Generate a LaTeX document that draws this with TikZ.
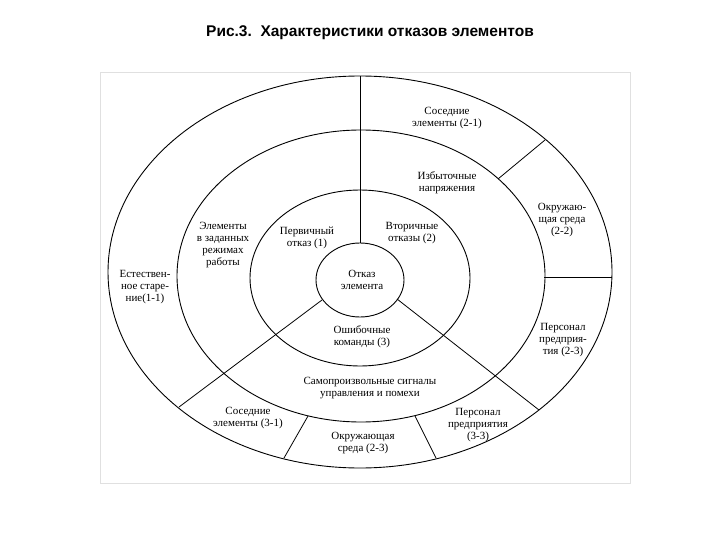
\documentclass[tikz,border=0pt]{standalone}
\usepackage{fontspec}
\setmainfont{Liberation Serif}
\newfontfamily\titlefont{Liberation Sans}
\begin{document}
\begin{tikzpicture}[x=1pt,y=-1pt,
  lbl/.style={align=center,font=\fontsize{11}{12}\selectfont,inner sep=1pt},
  ring/.style={draw,line width=0.9pt},
  sep/.style={draw,line width=0.8pt}]
\useasboundingbox (0,0) rectangle (720,540);
\fill[white] (0,0) rectangle (720,540);
\draw[black!12,line width=0.6pt] (100,72) rectangle (630,483);
\node[font=\titlefont\bfseries\fontsize{15.5}{17}\selectfont] (title) at (370,33) {Рис.3.\ \ Характеристики отказов элементов};
\draw[ring] (360,272) ellipse [x radius=252,y radius=196];
\draw[ring] (361,276) ellipse [x radius=184,y radius=146];
\draw[ring] (360,278) ellipse [x radius=110,y radius=88];
\draw[ring] (360,280) ellipse [x radius=44,y radius=37];
\coordinate (a1) at (360,243); \coordinate (a2) at (360,76);
\coordinate (b1) at (322,300); \coordinate (b2) at (179,407);
\coordinate (c1) at (397,299); \coordinate (c2) at (539,410);
\coordinate (d1) at (498,179); \coordinate (d2) at (545,140);
\coordinate (e1) at (544,277); \coordinate (e2) at (612,277);
\coordinate (f1) at (308,416); \coordinate (f2) at (284,458);
\coordinate (g1) at (415,416); \coordinate (g2) at (436,458);
\foreach \p/\q in {a1/a2,b1/b2,c1/c2,d1/d2,e1/e2,f1/f2,g1/g2} \draw[sep] (\p) -- (\q);
\node[lbl] (n1) at (447,118) {Соседние\\элементы (2-1)};
\node[lbl] (n2) at (447,183) {Избыточные\\напряжения};
\node[lbl] (n3) at (562,220) {Окружаю-\\щая среда\\(2-2)};
\node[lbl] (n4) at (223,245) {Элементы\\в заданных\\режимах\\работы};
\node[lbl] (n5) at (307,238) {Первичный\\отказ (1)};
\node[lbl] (n6) at (412,233) {Вторичные\\отказы (2)};
\node[lbl] (n7) at (362,280) {Отказ\\элемента};
\node[lbl] (n8) at (145,287) {Естествен-\\ное старе-\\ние(1-1)};
\node[lbl] (n9) at (362,337) {Ошибочные\\команды (3)};
\node[lbl] (n10) at (563,340) {Персонал\\предприя-\\тия (2-3)};
\node[lbl] (n11) at (370,388) {Самопроизвольные сигналы\\управления и помехи};
\node[lbl] (n12) at (248,418) {Соседние\\элементы (3-1)};
\node[lbl] (n13) at (363,443) {Окружающая\\среда (2-3)};
\node[lbl] (n14) at (478,425) {Персонал\\предприятия\\(3-3)};
\end{tikzpicture}
\end{document}
